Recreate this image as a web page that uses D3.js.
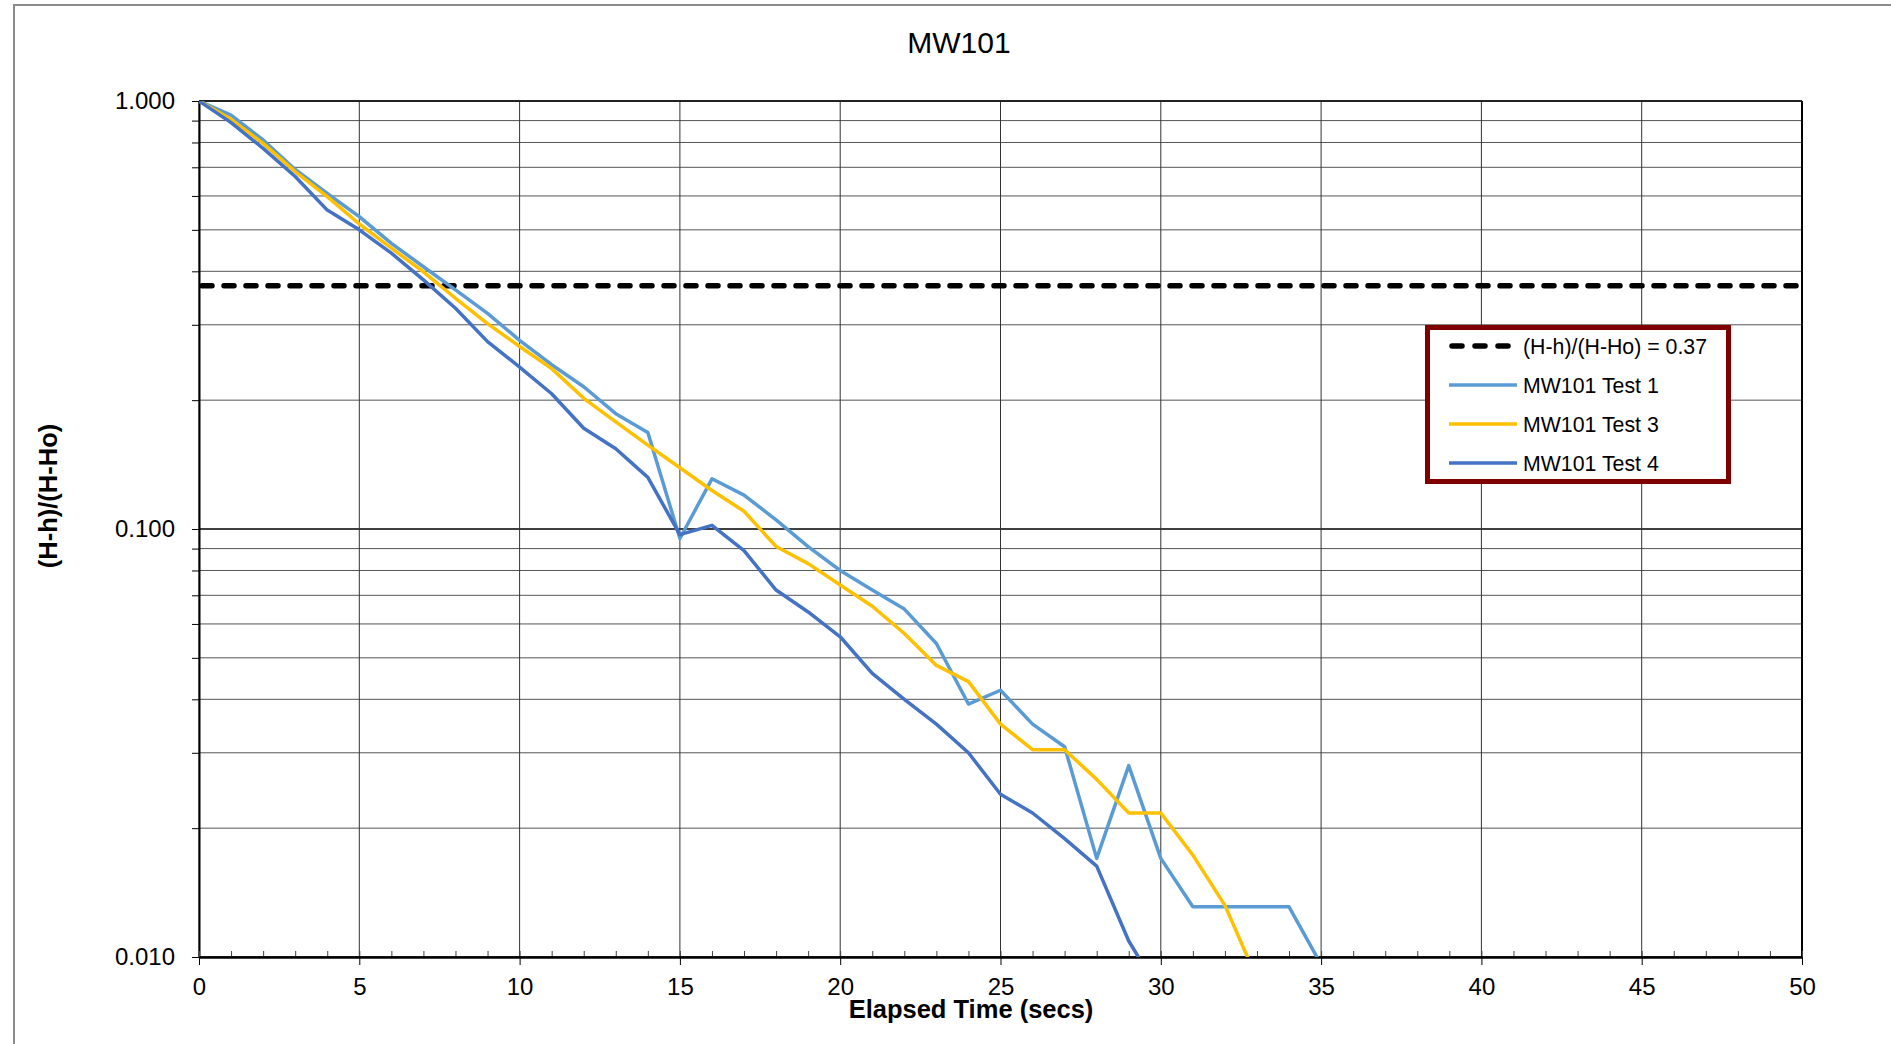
<!DOCTYPE html>
<html>
<head>
  <!-- D3 library -->
  <script type="text/javascript" src="https://cdn.jsdelivr.net/npm/d3@7"></script>
  <style>
    body { margin: 0; background: #fff; }
    text { font-family: "Liberation Sans", Arial, sans-serif; fill: #000; }
  </style>
</head>
<body>
  <div id="viz"></div>

  <script type="text/javascript">

    // ---- data (normalised head vs elapsed seconds) ----
    var time = d3.range(0, 36);

    var test1 = [1.000, 0.927, 0.811, 0.692, 0.608, 0.537, 0.465, 0.410, 0.362, 0.319,
                 0.276, 0.242, 0.215, 0.186, 0.168, 0.095, 0.131, 0.120, 0.105, 0.091,
                 0.080, 0.072, 0.065, 0.054, 0.039, 0.042, 0.035, 0.031, 0.017, 0.028,
                 0.017, 0.0131, 0.0131, 0.0131, 0.0131, 0.0096];

    var test3 = [1.000, 0.906, 0.796, 0.684, 0.598, 0.516, 0.453, 0.399, 0.346, 0.302,
                 0.267, 0.237, 0.202, 0.178, 0.157, 0.139, 0.123, 0.110, 0.091, 0.083,
                 0.074, 0.066, 0.057, 0.048, 0.044, 0.035, 0.0305, 0.0305, 0.026, 0.0217,
                 0.0217, 0.0173, 0.0132, 0.0089];

    var test4 = [1.000, 0.890, 0.775, 0.666, 0.556, 0.500, 0.441, 0.382, 0.328, 0.274,
                 0.239, 0.207, 0.172, 0.154, 0.132, 0.097, 0.102, 0.089, 0.072, 0.064,
                 0.056, 0.046, 0.040, 0.035, 0.030, 0.024, 0.0217, 0.0189, 0.0163, 0.0109,
                 0.0082];

    var threshold = 0.37;
    var xTicks = [0, 5, 10, 15, 20, 25, 30, 35, 40, 45, 50];
    var yLabels = [0.01, 0.1, 1];

    var series = [
      {name: "MW101 Test 1", color: "#5B9BD5", values: test1},
      {name: "MW101 Test 3", color: "#FFC000", values: test3},
      {name: "MW101 Test 4", color: "#4472C4", values: test4}
    ];

    var W = 1891, H = 1044;
    // plot area edges (note: "top" clashes with window.top, so use a box object)
    var box = {left: 199, right: 1802, top: 101, bottom: 957};

    var svg = d3.select("#viz")
        .append("svg")
        .attr("width", W)
        .attr("height", H);

    // outer chart border (runs off the right/bottom of the picture)
    svg.append("rect")
        .attr("x", 14).attr("y", 5)
        .attr("width", 1950).attr("height", 1100)
        .style("fill", "none")
        .style("stroke", "#8c8c8c")
        .style("stroke-width", 2);

    var x = d3.scaleLinear().domain([0, 50]).range([box.left, box.right]);
    var y = d3.scaleLog().domain([0.01, 1]).range([box.bottom, box.top]);

    // every 1..9 multiple in each decade
    var yGrid = y.ticks();

    function isDecade(d) {
      return yLabels.some(function(v){ return Math.abs(v - d) < 1e-9; });
    }

    // horizontal grid lines
    svg.append("g").selectAll("line")
        .data(yGrid)
        .enter().append("line")
        .attr("x1", box.left).attr("x2", box.right)
        .attr("y1", function(d){ return y(d); })
        .attr("y2", function(d){ return y(d); })
        .style("stroke", function(d){ return isDecade(d) ? "#000" : "#555"; })
        .style("stroke-width", function(d){ return isDecade(d) ? 1.5 : 1; });

    // vertical grid lines
    svg.append("g").selectAll("line")
        .data(xTicks)
        .enter().append("line")
        .attr("x1", function(d){ return x(d); })
        .attr("x2", function(d){ return x(d); })
        .attr("y1", box.top).attr("y2", box.bottom)
        .style("stroke", "#333")
        .style("stroke-width", 1);

    // top and right edge of plot area
    svg.append("line")
        .attr("x1", box.right).attr("x2", box.right)
        .attr("y1", box.top).attr("y2", box.bottom)
        .style("stroke", "#000").style("stroke-width", 2);
    svg.append("line")
        .attr("x1", box.left).attr("x2", box.right)
        .attr("y1", box.top).attr("y2", box.top)
        .style("stroke", "#222").style("stroke-width", 2);

    // y axis: tick at each grid line, labels on decades only
    var yAxis = svg.append("g")
        .attr("transform", "translate(" + box.left + ",0)")
        .call(d3.axisLeft(y)
            .tickValues(yGrid)
            .tickSize(7)
            .tickPadding(17)
            .tickSizeOuter(0)
            .tickFormat(function(d){ return isDecade(d) ? d3.format(".3f")(d) : ""; }));
    yAxis.select(".domain").style("stroke", "#000").style("stroke-width", 2);
    yAxis.selectAll(".tick line").style("stroke", "#000");
    yAxis.selectAll("text").style("font-size", "24px").attr("fill", "#000");

    // x axis: minor ticks every second pointing up
    var xMinor = svg.append("g")
        .attr("transform", "translate(0," + box.bottom + ")")
        .call(d3.axisBottom(x)
            .tickValues(d3.range(0, 51))
            .tickSize(-6)
            .tickFormat(""));
    xMinor.select(".domain").remove();
    xMinor.selectAll(".tick line").style("stroke", "#444");

    var xAxis = svg.append("g")
        .attr("transform", "translate(0," + box.bottom + ")")
        .call(d3.axisBottom(x)
            .tickValues(xTicks)
            .tickSize(8)
            .tickPadding(13)
            .tickSizeOuter(0));
    xAxis.select(".domain").style("stroke", "#000").style("stroke-width", 2.5);
    xAxis.selectAll(".tick line").style("stroke", "#000");
    xAxis.selectAll("text").style("font-size", "24px").attr("fill", "#000");

    // clip the curves to the plot area
    svg.append("clipPath").attr("id", "plotclip")
        .append("rect")
        .attr("x", box.left).attr("y", box.top)
        .attr("width", box.right - box.left).attr("height", box.bottom - box.top);

    var plot = svg.append("g").attr("clip-path", "url(#plotclip)");

    // threshold line
    plot.append("line")
        .attr("x1", x(0) + 3).attr("x2", x(50))
        .attr("y1", y(threshold)).attr("y2", y(threshold))
        .style("stroke", "#000")
        .style("stroke-width", 5.5)
        .style("stroke-dasharray", "10 12")
        .style("stroke-linecap", "round");

    var line = d3.line()
        .x(function(d, i){ return x(time[i]); })
        .y(function(d){ return y(d); });

    plot.selectAll("path.series")
        .data(series)
        .enter().append("path")
        .attr("class", "series")
        .attr("d", function(s){ return line(s.values); })
        .style("fill", "none")
        .style("stroke", function(s){ return s.color; })
        .style("stroke-width", 3.5)
        .style("stroke-linejoin", "round");

    // title and axis titles
    svg.append("text")
        .attr("x", 959).attr("y", 53)
        .attr("text-anchor", "middle")
        .style("font-size", "30px")
        .text("MW101");

    svg.append("text")
        .attr("x", 971).attr("y", 1018)
        .attr("text-anchor", "middle")
        .style("font-size", "25.5px")
        .style("font-weight", "bold")
        .text("Elapsed Time (secs)");

    svg.append("text")
        .attr("transform", "translate(57,496) rotate(-90)")
        .attr("text-anchor", "middle")
        .style("font-size", "25.5px")
        .style("font-weight", "bold")
        .text("(H-h)/(H-Ho)");

    // legend
    var legend = svg.append("g");
    legend.append("rect")
        .attr("x", 1427.5).attr("y", 327.5)
        .attr("width", 301).attr("height", 154)
        .style("fill", "#fff")
        .style("stroke", "#7F0000")
        .style("stroke-width", 5);

    var items = [{name: "(H-h)/(H-Ho) = 0.37", color: "#000", dashed: true}].concat(series);

    var rows = legend.selectAll("g.item")
        .data(items)
        .enter().append("g")
        .attr("class", "item")
        .attr("transform", function(d, i){ return "translate(0," + (346 + i * 39) + ")"; });

    rows.append("line")
        .attr("x1", function(d){ return d.dashed ? 1452 : 1449; })
        .attr("x2", function(d){ return d.dashed ? 1514 : 1517; })
        .attr("y1", 0).attr("y2", 0)
        .style("stroke", function(d){ return d.color; })
        .style("stroke-width", function(d){ return d.dashed ? 5.5 : 3.5; })
        .style("stroke-dasharray", function(d){ return d.dashed ? "10 13" : null; })
        .style("stroke-linecap", function(d){ return d.dashed ? "round" : "butt"; });

    rows.append("text")
        .attr("x", 1523).attr("y", 7.5)
        .style("font-size", "21.3px")
        .text(function(d){ return d.name; });

  </script>
</body>
</html>
